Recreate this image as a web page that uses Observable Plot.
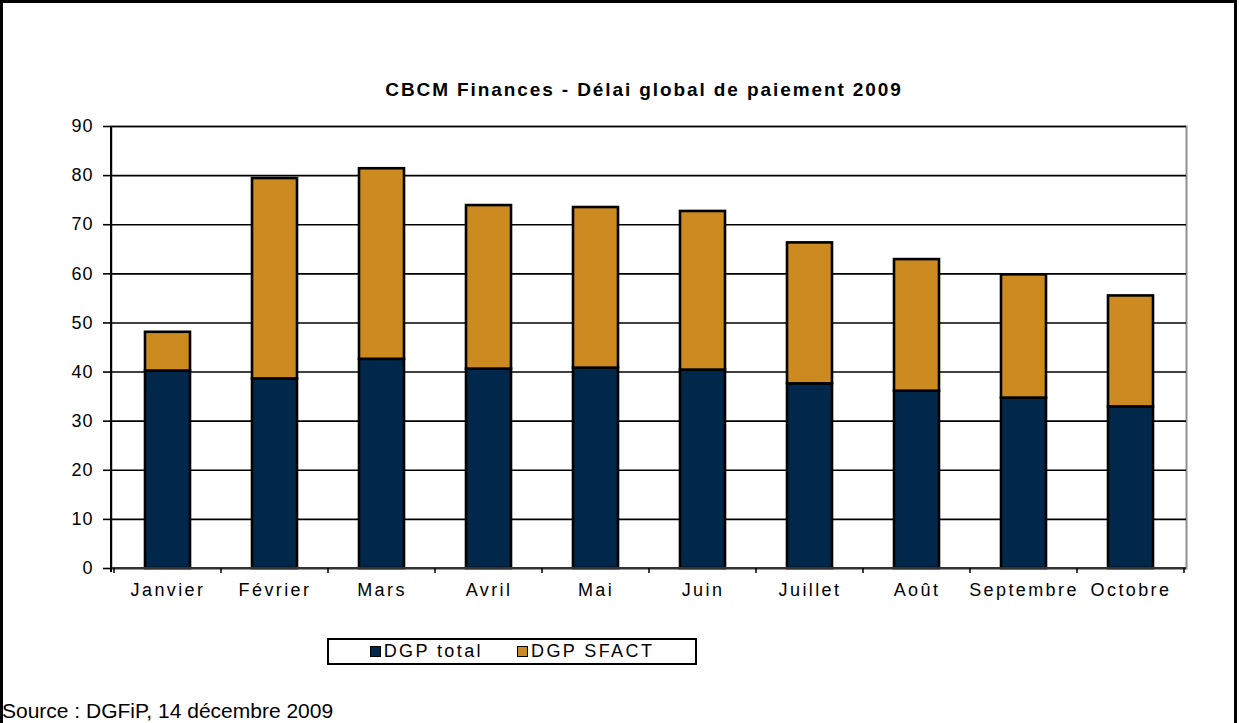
<!DOCTYPE html>
<html>
<head>
<meta charset="utf-8">
<script src="https://cdn.jsdelivr.net/npm/d3@7"></script>
<script src="https://cdn.jsdelivr.net/npm/@observablehq/plot@0.6"></script>
<style>
  body { margin: 0; background: #fff; font-family: "Liberation Sans", Arial, sans-serif; }
  #wrap { position: relative; width: 1239px; height: 723px; overflow: hidden; background: #fff; }
  #frame { position: absolute; left: 0; top: 0; width: 1231px; height: 760px; border: 3px solid #000; }
  #chart { position: absolute; left: 0; top: 0; }
  #title { position: absolute; top: 79px; left: 644px; transform: translateX(-50%); white-space: nowrap;
           font-weight: bold; font-size: 19px; letter-spacing: 1.9px; color: #000; }
  #legend { position: absolute; left: 327px; top: 638px; width: 366px; height: 23px; border: 2px solid #000;
            display: flex; align-items: center; justify-content: center; gap: 34px;
            font-size: 18px; letter-spacing: 2.4px; color: #000; }
  #legend .item { display: flex; align-items: center; }
  #legend .sw { width: 9px; height: 9px; border: 1px solid #000; margin-right: 3px; }
  #source { position: absolute; left: 2px; top: 699px; font-size: 21px; color: #000; white-space: nowrap; }
  #chart g[aria-label="x-axis tick label"] text { letter-spacing: 2.4px; }
  #chart g[aria-label="y-axis tick label"] text { letter-spacing: 1px; }
</style>
</head>
<body>
<div id="wrap">
  <div id="frame"></div>
  <div id="chart"></div>
  <div id="title"></div>
  <div id="legend"></div>
  <div id="source"></div>
</div>
<script>
const titleText = "CBCM Finances - Délai global de paiement 2009";
const sourceText = "Source : DGFiP, 14 décembre 2009";
const months = ["Janvier", "Février", "Mars", "Avril", "Mai", "Juin", "Juillet", "Août", "Septembre", "Octobre"];
const seriesNames = ["DGP total", "DGP SFACT"];
const seriesColors = ["#01284A", "#CC8A21"];
const dgpTotal = [40.2, 38.6, 42.6, 40.6, 40.8, 40.4, 37.6, 36.1, 34.7, 32.9];
const dgpSfact = [7.9, 40.8, 38.8, 33.3, 32.7, 32.3, 28.7, 26.8, 25.1, 22.6];
const yTicks = [0, 10, 20, 30, 40, 50, 60, 70, 80, 90];

const data = months.flatMap((m, i) => [
  {month: m, series: seriesNames[0], value: dgpTotal[i]},
  {month: m, series: seriesNames[1], value: dgpSfact[i]}
]);

function axisLines(index, scales, values, dimensions) {
  const {width, height, marginLeft, marginRight, marginTop, marginBottom} = dimensions;
  const x = scales.x;
  const starts = months.map(m => x(m));
  const step = starts[1] - starts[0];
  let bw = typeof x.bandwidth === "function" ? x.bandwidth() : x.bandwidth;
  if (!bw) bw = step * (1 - 0.58);
  const centers = starts.map(s => s + bw / 2);
  const bounds = [centers[0] - step / 2, ...centers.map(c => c + step / 2)];
  const y0 = height - marginBottom;
  const g = d3.create("svg:g");
  g.append("line")
    .attr("x1", marginLeft).attr("x2", width - marginRight)
    .attr("y1", y0).attr("y2", y0)
    .attr("stroke", "#333").attr("stroke-width", 2);
  g.selectAll("line.bt").data(bounds).join("line")
    .attr("class", "bt")
    .attr("x1", d => d).attr("x2", d => d)
    .attr("y1", y0).attr("y2", y0 + 5)
    .attr("stroke", "#000").attr("stroke-width", 1.5);
  g.append("line")
    .attr("x1", marginLeft).attr("x2", marginLeft)
    .attr("y1", marginTop).attr("y2", y0 + 4)
    .attr("stroke", "#000").attr("stroke-width", 2);
  return g.node();
}

const chart = Plot.plot({
  width: 1239,
  height: 620,
  marginLeft: 111,
  marginRight: 53,
  marginTop: 126,
  marginBottom: 52,
  style: {fontFamily: "Liberation Sans, Arial, sans-serif", fontSize: "18px", color: "#000", background: "transparent", overflow: "visible"},
  x: {domain: months, paddingInner: 0.58, paddingOuter: 0.29, label: null},
  y: {domain: [0, 90], label: null},
  color: {domain: seriesNames, range: seriesColors},
  marks: [
    Plot.frame({stroke: "#8f8f8f", strokeWidth: 2}),
    Plot.gridY(yTicks, {stroke: "#000", strokeOpacity: 1, strokeWidth: 1.6}),
    Plot.barY(data, {x: "month", y: "value", fill: "series", stroke: "#000", strokeWidth: 2.6}),
    Plot.axisY(yTicks, {tickSize: 8, tickPadding: 10, stroke: "#000", strokeWidth: 1.6, fill: "#000", fontSize: 18}),
    Plot.axisX({tickSize: 0, tickPadding: 15, fill: "#000", fontSize: 18}),
    axisLines
  ]
});
document.getElementById("chart").appendChild(chart);

document.getElementById("title").textContent = titleText;
document.getElementById("source").textContent = sourceText;
const legend = document.getElementById("legend");
seriesNames.forEach((name, i) => {
  const item = document.createElement("div");
  item.className = "item";
  const sw = document.createElement("div");
  sw.className = "sw";
  sw.style.background = seriesColors[i];
  const label = document.createElement("span");
  label.textContent = name;
  item.appendChild(sw);
  item.appendChild(label);
  legend.appendChild(item);
});
</script>
</body>
</html>
